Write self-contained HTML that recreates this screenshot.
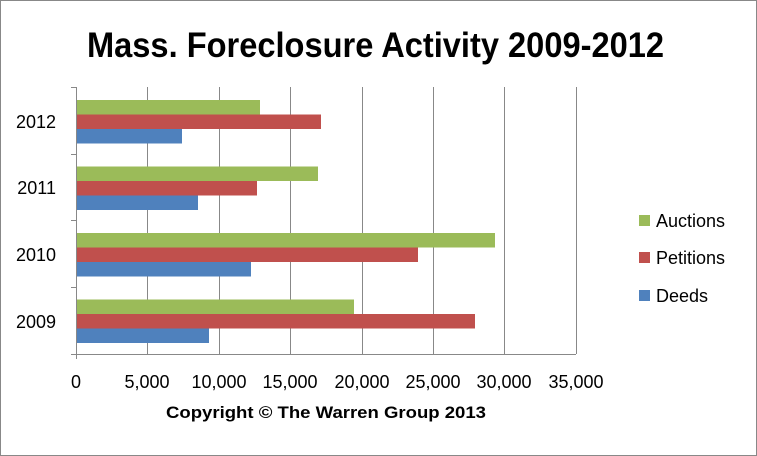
<!DOCTYPE html>
<html><head><style>body{margin:0}svg{display:block}text{font-family:"Liberation Sans",sans-serif}</style></head><body>
<svg width="757" height="456" xmlns="http://www.w3.org/2000/svg">
<rect x="0.5" y="0.5" width="756" height="455" fill="#fff" stroke="#888"/>
<text x="87" y="57" font-size="35" font-weight="bold" textLength="577" lengthAdjust="spacingAndGlyphs">Mass. Foreclosure Activity 2009-2012</text>
<g stroke="#888" stroke-width="1">
<line x1="147.5" y1="87" x2="147.5" y2="354"/><line x1="219.5" y1="87" x2="219.5" y2="354"/>
<line x1="290.5" y1="87" x2="290.5" y2="354"/><line x1="362.5" y1="87" x2="362.5" y2="354"/>
<line x1="433.5" y1="87" x2="433.5" y2="354"/><line x1="504.5" y1="87" x2="504.5" y2="354"/>
<line x1="576.5" y1="87" x2="576.5" y2="354"/>
<line x1="76.5" y1="87" x2="76.5" y2="359"/>
<line x1="71" y1="87.5" x2="76" y2="87.5"/><line x1="71" y1="154.5" x2="76" y2="154.5"/>
<line x1="71" y1="220.5" x2="76" y2="220.5"/><line x1="71" y1="287.5" x2="76" y2="287.5"/>
<line x1="71" y1="354.5" x2="576" y2="354.5"/>
</g>
<g>
<rect x="77" y="100" width="183" height="14.5" fill="#9BBB59"/>
<rect x="77" y="114.5" width="244" height="14.5" fill="#C0504D"/>
<rect x="77" y="129" width="105" height="14.5" fill="#4F81BD"/>
<rect x="77" y="166.5" width="241" height="14.5" fill="#9BBB59"/>
<rect x="77" y="181" width="180" height="14.5" fill="#C0504D"/>
<rect x="77" y="195.5" width="121" height="14.5" fill="#4F81BD"/>
<rect x="77" y="233" width="418" height="14.5" fill="#9BBB59"/>
<rect x="77" y="247.5" width="341" height="14.5" fill="#C0504D"/>
<rect x="77" y="262" width="174" height="14.5" fill="#4F81BD"/>
<rect x="77" y="299.5" width="277" height="14.5" fill="#9BBB59"/>
<rect x="77" y="314" width="398" height="14.5" fill="#C0504D"/>
<rect x="77" y="328.5" width="132" height="14.5" fill="#4F81BD"/>
</g>
<g font-size="18" text-anchor="end">
<text x="56" y="128">2012</text><text x="56" y="194">2011</text>
<text x="56" y="261">2010</text><text x="56" y="328">2009</text>
</g>
<g font-size="18" text-anchor="middle">
<text x="76" y="388">0</text><text x="147" y="388">5,000</text><text x="219" y="388">10,000</text>
<text x="290" y="388">15,000</text><text x="362" y="388">20,000</text><text x="433" y="388">25,000</text>
<text x="504" y="388">30,000</text><text x="576" y="388">35,000</text>
</g>
<text x="166" y="418" font-size="17" font-weight="bold" textLength="320" lengthAdjust="spacingAndGlyphs">Copyright © The Warren Group 2013</text>
<rect x="639" y="215" width="11" height="11" fill="#9BBB59"/>
<rect x="639" y="252" width="11" height="11" fill="#C0504D"/>
<rect x="639" y="290" width="11" height="11" fill="#4F81BD"/>
<g font-size="18"><text x="656" y="227">Auctions</text><text x="656" y="264">Petitions</text><text x="656" y="302">Deeds</text></g>
</svg>
</body></html>
